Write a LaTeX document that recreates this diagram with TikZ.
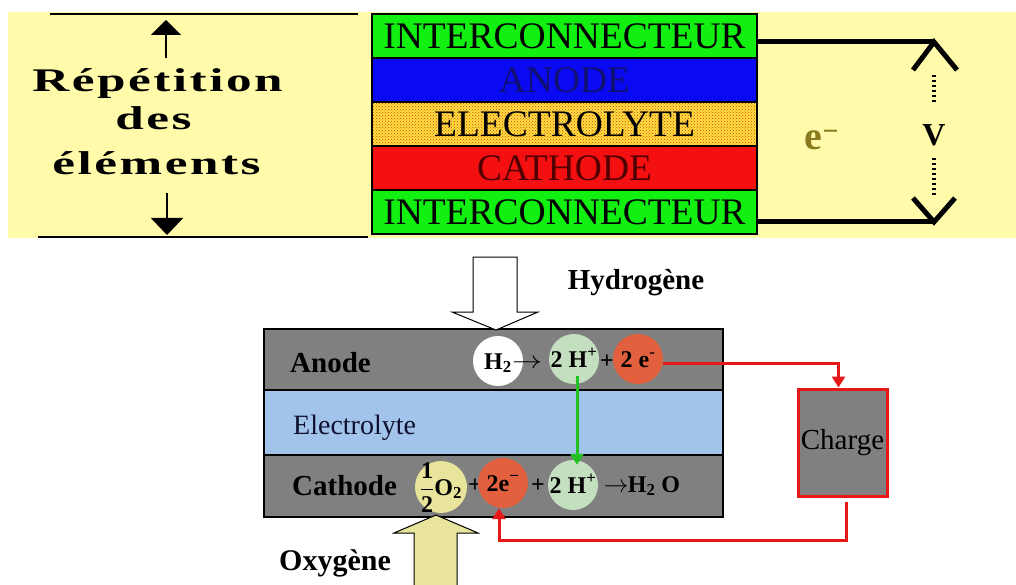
\documentclass[tikz,border=0pt]{standalone}
\usepackage{fontspec}
\setmainfont{Liberation Serif}
\newfontfamily\spacedfont[LetterSpace=5]{Liberation Serif}
\usetikzlibrary{positioning, arrows.meta, patterns}
\definecolor{topyellow}{HTML}{FFFBAA}
\definecolor{icgreen}{HTML}{12F012}
\definecolor{anblue}{HTML}{0A0AF2}
\definecolor{anodetext}{HTML}{101070}
\definecolor{elecyellow}{HTML}{FFE040}
\definecolor{dotred}{HTML}{D04010}
\definecolor{cathred}{HTML}{F41010}
\definecolor{cathtext}{HTML}{500000}
\definecolor{olivetext}{HTML}{8A7A1E}
\definecolor{cellgray}{HTML}{808080}
\definecolor{elecblue}{HTML}{A3C4EA}
\definecolor{navytext}{HTML}{101030}
\definecolor{blobgreen}{HTML}{C4DEC0}
\definecolor{blobred}{HTML}{E2603E}
\definecolor{blobyellow}{HTML}{E8E49C}
\definecolor{wirered}{HTML}{E81818}
\definecolor{arrowgreen}{HTML}{22C022}
\newcommand{\fsz}[1]{\fontsize{#1}{#1}\selectfont}
\newcommand{\yields}{\scalebox{1.2}[1]{$\rightarrow$}}

\begin{document}
\begin{tikzpicture}[x=1pt, y=-1pt,
    layer/.style={draw=black, line width=2pt, minimum width=385pt, minimum height=44pt,
        inner sep=0pt, outer sep=0pt, font=\fsz{37.5}},
    band/.style={draw=black, line width=2pt, minimum width=459pt, inner sep=0pt,
        outer sep=0pt, fill=cellgray},
    blob/.style={circle, inner sep=0pt, minimum size=50pt, text height=16pt,
        text depth=0pt, font=\bfseries\fsz{24}},
    eqtext/.style={anchor=base, inner sep=0pt, font=\bfseries\fsz{24}},
    bandtext/.style={anchor=west, inner sep=0pt, font=\bfseries\fsz{29}},
    reptext/.style={anchor=base, inner sep=0pt, font=\spacedfont\bfseries\fsz{33}},
    wire/.style={line width=5pt},
    voltdash/.style={line width=4pt, dash pattern=on 2pt off 3pt},
    redwire/.style={draw=wirered, line width=3pt, -{Triangle[width=13pt,length=11pt]}},
    gas/.style={draw=black, line width=1pt},
]
    \useasboundingbox (0,0) rectangle (1016,585);

    % stack of elements
    \fill[topyellow] (8,12) rectangle (1016,238);
    \draw[line width=1.5pt] (50,14) -- (358,14);
    \draw[line width=1.5pt] (38,237) -- (368,237);
    \node[reptext] (rep1) at (157.5,92) {\scalebox{1.55}[1]{Répétition}};
    \node[reptext] (rep2) at (153.5,130) {\scalebox{1.55}[1]{des}};
    \node[reptext] (rep3) at (156.5,175) {\scalebox{1.55}[1]{éléments}};
    \coordinate (upend) at (166,58);
    \coordinate (uptip) at (166,20);
    \coordinate (downend) at (167,193);
    \coordinate (downtip) at (167,235);
    \draw[line width=2pt, -{Triangle[width=30pt,length=15pt]}] (upend) -- (uptip);
    \draw[line width=2pt, -{Triangle[width=32pt,length=17pt]}] (downend) -- (downtip);

    \node[layer, fill=icgreen] (ictop) at (564.5,36) {INTERCONNECTEUR};
    \node[layer, fill=anblue, text=anodetext, below=0pt of ictop] (anodelayer) {ANODE};
    \node[layer, preaction={fill=elecyellow}, pattern=crosshatch dots, pattern color=dotred,
        below=0pt of anodelayer] (eleclayer) {ELECTROLYTE};
    \node[layer, fill=cathred, text=cathtext, below=0pt of eleclayer] (cathlayer) {CATHODE};
    \node[layer, fill=icgreen, below=0pt of cathlayer] (icbot) {INTERCONNECTEUR};

    \coordinate (vtop) at (934,42);
    \coordinate (vbot) at (934,222);
    \draw[wire] (ictop.east |- vtop) -- (vtop);
    \draw[wire] (icbot.east |- vbot) -- (vbot);
    \draw[wire] ([shift={(-21,28)}]vtop) -- (vtop) -- ([shift={(23,28)}]vtop);
    \draw[wire] ([shift={(-21,-24)}]vbot) -- (vbot) -- ([shift={(21,-24)}]vbot);
    \node[font=\bfseries\fsz{32}, inner sep=0pt] (vlabel) at (934,135) {V};
    \draw[voltdash, shorten <=33pt, shorten >=21pt] (vtop) -- (vlabel);
    \draw[voltdash, shorten <=12pt, shorten >=26pt] (vlabel) -- (vbot);
    \node[font=\bfseries\fsz{40}, text=olivetext, inner sep=0pt] (elabel) at (822,140)
        {e\textsuperscript{−}};

    % fuel cell
    \node[band, minimum height=61pt, anchor=north] (anodeband) at (493.5,329) {};
    \node[band, fill=elecblue, minimum height=65pt, below=0pt of anodeband] (elecband) {};
    \node[band, minimum height=62pt, below=0pt of elecband] (cathband) {};
    \node[bandtext] (anodetxt) at ([xshift=26pt, yshift=-3.5pt]anodeband.west) {Anode};
    \node[bandtext, font=\fsz{28}, text=navytext] (electxt)
        at ([xshift=29pt, yshift=-5pt]elecband.west) {Electrolyte};
    \node[bandtext] (cathtxt) at ([xshift=28pt]cathband.west) {Cathode};

    \filldraw[gas, fill=white] (473,257) -- (517,257) -- (517,312) -- (538,312)
        -- (496,330) -- (452,312) -- (473,312) -- cycle;
    \node[font=\bfseries\fsz{29}, inner sep=0pt] (hydro) at (636,283) {Hydrogène};

    \fill[blobyellow] (414,586) -- (414,533) -- (394,533) -- (436,515) -- (478,533)
        -- (457,533) -- (457,586) -- cycle;
    \draw[gas] (414,586) -- (414,533) -- (394,533) -- (436,515) -- (478,533)
        -- (457,533) -- (457,586);
    \node[font=\bfseries\fsz{30}, inner sep=0pt] (oxy) at (335,563) {Oxygène};

    % anode reaction
    \node[blob, fill=white] (h2blob) at (498,361) {H\textsubscript{2}};
    \node[eqtext] (anarrow) at (527,368) {\yields};
    \node[blob, fill=blobgreen] (hpblob) at (574,359) {2 H\textsuperscript{+}};
    \node[eqtext] (anplus) at (607,368) {+};
    \node[blob, fill=blobred] (eblob) at (638,359) {2 e\textsuperscript{-}};

    % cathode reaction
    \node[blob, fill=blobyellow, minimum size=52pt] (o2blob) at (441,487)
        {${\displaystyle\frac{\textbf{1}}{\textbf{2}}}$O\textsubscript{2}};
    \node[eqtext] (caplus1) at (475,492) {+};
    \node[blob, fill=blobred] (ecblob) at (503,483) {2e\textsuperscript{−}};
    \node[eqtext] (caplus2) at (538,492) {+};
    \node[blob, fill=blobgreen] (hcblob) at (573,485) {2 H\textsuperscript{+}};
    \node[eqtext] (caarrow) at (616,492) {$\rightarrow$};
    \node[eqtext] (water) at (654,492) {H\textsubscript{2} O};

    % load circuit
    \node[draw=wirered, line width=3pt, fill=cellgray, minimum width=89pt, minimum height=107pt,
        inner sep=0pt, font=\fsz{29}] (charge) at (842.5,442.5) {Charge};
    \coordinate (retrail) at (0,540);
    \draw[redwire] ([yshift=-4pt]eblob.east) -| ([xshift=-4pt]charge.north);
    \draw[redwire] ([xshift=4pt, yshift=-4pt]charge.south) |- ([xshift=-4pt]ecblob.south |- retrail)
        -- ([xshift=-4pt]ecblob.south);
    \draw[draw=arrowgreen, line width=3pt, -{Triangle[width=13pt,length=11pt]}]
        ([shift={(3pt,8pt)}]hpblob.south) -- ([shift={(4pt,-5pt)}]hcblob.north);
\end{tikzpicture}
\end{document}
